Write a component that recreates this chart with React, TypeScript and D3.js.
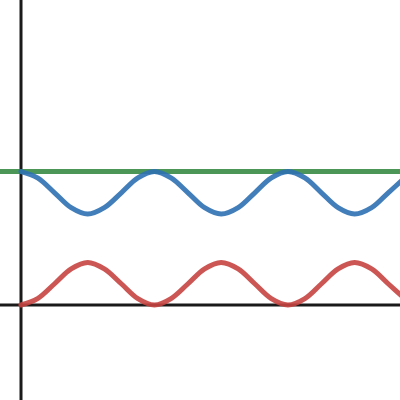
import React from "react";
import * as d3 from "d3";

const xs = [0, 0.39, 0.79, 1.18, 1.57, 1.96, 2.36, 2.75, 3.14, 3.53, 3.93, 4.32, 4.71, 5.11, 5.5, 5.89, 6.28, 6.68, 7.07, 7.46, 7.85, 8.25, 8.64, 9.03];
const redValues = [0, 0.15, 0.5, 0.85, 1, 0.85, 0.5, 0.15, 0, 0.15, 0.5, 0.85, 1, 0.85, 0.5, 0.15, 0, 0.15, 0.5, 0.85, 1, 0.85, 0.5, 0.15];
const blueValues = [3.14, 2.99, 2.64, 2.29, 2.14, 2.29, 2.64, 2.99, 3.14, 2.99, 2.64, 2.29, 2.14, 2.29, 2.64, 2.99, 3.14, 2.99, 2.64, 2.29, 2.14, 2.29, 2.64, 2.99];
const greenXs = [-0.6, 9.1];
const greenValues = [3.14, 3.14];

const W = 400;
const H = 400;

export default function App() {
  const unit = 42.5;
  const x = d3.scaleLinear().domain([-21 / unit, (W - 21) / unit]).range([0, W]);
  const y = d3.scaleLinear().domain([-(H - 305) / unit, 305 / unit]).range([H, 0]);
  const line = d3
    .line<[number, number]>()
    .x((d) => x(d[0]))
    .y((d) => y(d[1]))
    .curve(d3.curveCatmullRom.alpha(0.5));
  const red = xs.map((v, i) => [v, redValues[i]] as [number, number]);
  const blue = xs.map((v, i) => [v, blueValues[i]] as [number, number]);
  const green = greenXs.map((v, i) => [v, greenValues[i]] as [number, number]);
  return (
    <svg
      width={W}
      height={H}
      style={{ position: "absolute", left: 0, top: 0, background: "#fff" }}
    >
      <defs>
        <clipPath id="c">
          <rect x={0} y={0} width={W} height={H} />
        </clipPath>
      </defs>
      <line x1={x(0)} x2={x(0)} y1={0} y2={H} stroke="#1a1a1a" strokeWidth={3} />
      <line x1={0} x2={W} y1={y(0)} y2={y(0)} stroke="#1a1a1a" strokeWidth={3} />
      <g clipPath="url(#c)" fill="none" strokeWidth={5} strokeLinecap="round" strokeLinejoin="round">
        <path d={line(green) || ""} stroke="#388c46" strokeOpacity={0.9} />
        <path d={line(blue) || ""} stroke="#2d70b3" strokeOpacity={0.9} />
        <path d={line(red) || ""} stroke="#c74440" strokeOpacity={0.9} />
      </g>
    </svg>
  );
}
